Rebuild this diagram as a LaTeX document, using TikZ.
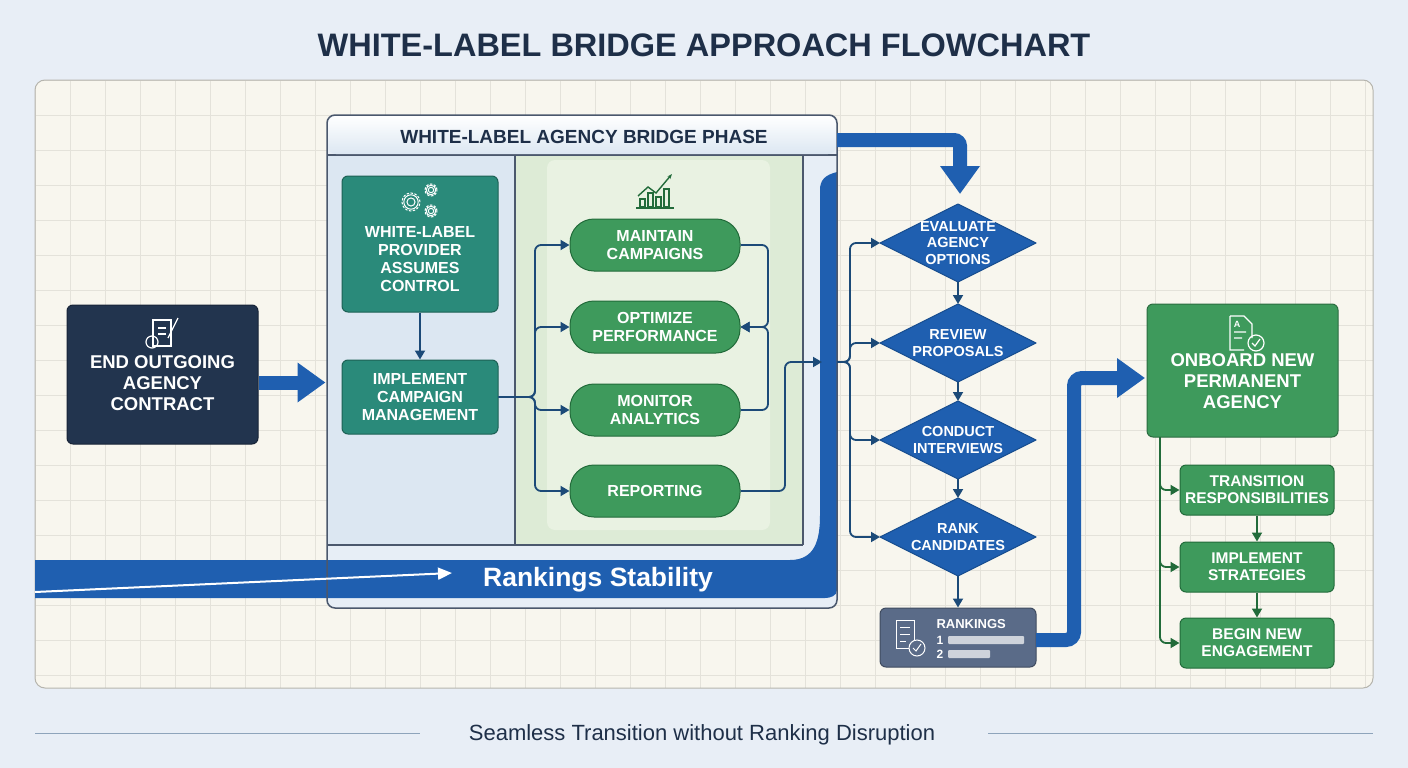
\documentclass[tikz,border=0pt]{standalone}
\usepackage{fontspec}
\setmainfont{Liberation Sans}
\usetikzlibrary{arrows.meta,calc,shapes.geometric}
\definecolor{bg}{HTML}{E8EEF6}
\definecolor{panel}{HTML}{F8F6EE}
\definecolor{gridc}{HTML}{E4E2DA}
\definecolor{navy}{HTML}{1E2F48}
\definecolor{dark}{HTML}{22344E}
\definecolor{teal}{HTML}{2A8A7A}
\definecolor{gr}{HTML}{3E9A5C}
\definecolor{grD}{HTML}{226B3A}
\definecolor{blu}{HTML}{1F5FB0}
\definecolor{bluD}{HTML}{164C8E}
\definecolor{lne}{HTML}{1C4A78}
\definecolor{slate}{HTML}{5A6B88}
\definecolor{lblue}{HTML}{DCE7F2}
\definecolor{lgreen}{HTML}{DDEBD6}
\definecolor{lgreen2}{HTML}{E9F2E2}
\tikzset{
 box/.style={rounded corners=6pt,draw=#1!70!black,line width=1pt,text=white,font=\bfseries\fontsize{16}{18}\selectfont,align=center},
 pill/.style={rounded corners=24pt,fill=gr,draw=grD,line width=1pt,minimum width=170pt,minimum height=52pt,text=white,font=\bfseries\fontsize{16}{18}\selectfont,align=center},
 sub/.style={rounded corners=6pt,fill=gr,draw=grD,line width=1pt,minimum width=154pt,minimum height=50pt,text=white,font=\bfseries\fontsize{15.5}{17}\selectfont,align=center},
 dtext/.style={text=white,font=\bfseries\fontsize{14.5}{16.5}\selectfont,align=center},
 dia/.style={fill=blu,draw=bluD,line width=1pt,line join=round},
 con/.style={draw=lne,line width=1.8pt,-{Triangle[length=9pt,width=10pt]},rounded corners=6pt},
 gcon/.style={draw=grD,line width=1.8pt,-{Triangle[length=9pt,width=10pt]},rounded corners=6pt},
 big/.style={draw=blu,line width=14pt,-{Triangle[length=28pt,width=38pt]}},
}
\newcommand{\mydia}[4]{%
 \coordinate (#1-t) at (#2,#3-39); \coordinate (#1-b) at (#2,#3+39);
 \coordinate (#1-l) at (#2-78,#3); \coordinate (#1-r) at (#2+78,#3);
 \path[dia] (#1-l)--(#1-t)--(#1-r)--(#1-b)--cycle;
 \node[dtext] (#1) at (#2,#3) {#4};}
\begin{document}
\begin{tikzpicture}[x=1pt,y=-1pt]
\useasboundingbox (0,0) rectangle (1408,768);
\fill[bg] (0,0) rectangle (1408,768);
\node[text=navy,font=\bfseries\fontsize{32.5}{36}\selectfont] (title) at (704,45) {WHITE-LABEL BRIDGE APPROACH FLOWCHART};
% panel
\fill[panel,rounded corners=10pt] (35,80) rectangle (1373,688);
\begin{scope}
\clip[rounded corners=10pt] (35,80) rectangle (1373,688);
\foreach \x in {35,70,...,1373} \draw[gridc,line width=0.8pt] (\x,80)--(\x,688);
\foreach \y in {80,115,...,688} \draw[gridc,line width=0.8pt] (35,\y)--(1373,\y);
\end{scope}
\draw[draw=gridc!80!black,line width=1pt,rounded corners=10pt] (35,80) rectangle (1373,688);
% bridge phase panel
\fill[lblue!70!white,rounded corners=8pt] (327,115) rectangle (837,608);
\fill[lblue] (327,155) rectangle (515,545);
\fill[lgreen] (515,155) rectangle (803,545);
\fill[lgreen2,rounded corners=8pt] (547,160) rectangle (770,530);
\draw[navy!80,line width=1.2pt] (327,155)--(837,155) (515,155)--(515,545) (803,155)--(803,545) (327,545)--(803,545);
\shade[top color=white,bottom color=lblue,rounded corners=8pt] (328,116) rectangle (836,154);
\node[text=navy,font=\bfseries\fontsize{19}{22}\selectfont] (phase) at (584,137) {WHITE-LABEL AGENCY BRIDGE PHASE};
% blue stability band
\fill[blu] (35,560) -- (790,560) .. controls (815,560) and (820,540) .. (820,515) -- (820,190) .. controls (820,180) and (825,175) .. (837,172) -- (837,590) .. controls (837,596) and (830,598) .. (825,598) -- (35,598) -- cycle;
\draw[navy!80,line width=1.5pt,rounded corners=8pt] (327,115) rectangle (837,608);
\node[text=white,font=\bfseries\fontsize{26.5}{30}\selectfont] (stab) at (598,580) {Rankings Stability};
\coordinate (wa) at (35,592); \coordinate (wb) at (452,573);
\draw[white,line width=2pt,-{Triangle[length=14pt,width=12pt]}] (wa)--(wb);
% top big arrow
\coordinate (ta) at (837,140); \coordinate (tb) at (960,194);
\draw[big,rounded corners=6pt] (ta) -- (960,140) -- (tb);
% end outgoing
\node[box=dark,fill=dark,minimum width=191pt,minimum height=139pt,font=\bfseries\fontsize{18.5}{21}\selectfont] (end) at (162.5,374.5) {\\[10pt]END OUTGOING\\AGENCY\\CONTRACT};
\draw[white,line width=1.2pt] (153,320) rectangle (171,346) (158,328)--(166,328) (158,334)--(166,334);
\draw[white,line width=1.2pt] (152,342) circle (6pt) (178,318)--(168,338);
\draw[big] (end.east) ++(0,8) coordinate (ea) -- ($(ea)+(67,0)$) coordinate (eb);
% teal boxes
\node[box=teal,fill=teal,minimum width=156pt,minimum height=136pt] (wl) at (420,244) {\\[24pt]WHITE-LABEL\\PROVIDER\\ASSUMES\\CONTROL};
\foreach \cx/\cy/\r in {411/202/9,431/190/6,431/211/6}
 \draw[white,line width=1pt,dashed,dash pattern=on 2.5pt off 1.5pt] (\cx,\cy) circle (\r pt);
\foreach \cx/\cy/\r in {411/202/9,431/190/6,431/211/6}
 \draw[white,line width=1pt] (\cx,\cy) circle (\r*0.45 pt) (\cx,\cy) circle (\r*0.8 pt);
\node[box=teal,fill=teal,minimum width=156pt,minimum height=74pt] (impl) at (420,397) {IMPLEMENT\\CAMPAIGN\\MANAGEMENT};
\draw[con] (wl.south) -- (impl.north);
% chart icon
\draw[grD,line width=1.4pt] (636,208)--(674,208);
\foreach \xx/\hh in {640/8,648/14,656/10,664/18} \draw[grD,line width=1.2pt] (\xx,207) rectangle (\xx+5,207-\hh);
\draw[grD,line width=1.4pt,-{Stealth[length=5pt]}] (638,196)--(648,187)--(656,193)--(672,174);
% pills
\node[pill] (p1) at (655,245) {MAINTAIN\\CAMPAIGNS};
\node[pill] (p2) at (655,327) {OPTIMIZE\\PERFORMANCE};
\node[pill] (p3) at (655,410) {MONITOR\\ANALYTICS};
\node[pill] (p4) at (655,491) {REPORTING};
\foreach \p in {p1,p2,p3,p4} \draw[con] (impl.east) -- (535,397) |- (\p.west);
\draw[con] (p1.east) -- (768,245) |- (p2.east);
\draw[con] (p3.east) -- (768,410) |- (p2.east);
\coordinate (rj) at (822,362);
\draw[con] (p4.east) -- (785,491) |- (rj);
% diamonds
\mydia{d1}{958}{243}{EVALUATE\\AGENCY\\OPTIONS}
\mydia{d2}{958}{343}{REVIEW\\PROPOSALS}
\mydia{d3}{958}{440}{CONDUCT\\INTERVIEWS}
\mydia{d4}{958}{537}{RANK\\CANDIDATES}
\coordinate (fj) at (837,362);
\foreach \d in {d1,d2,d3,d4} \draw[con] (fj) -- (850,362) |- (\d-l);
\draw[con] (d1-b)--(d2-t); \draw[con] (d2-b)--(d3-t); \draw[con] (d3-b)--(d4-t);
% rankings box
\node[box=slate,fill=slate,minimum width=156pt,minimum height=59pt] (rk) at (958,637.5) {};
\draw[con] (d4-b)--(rk.north);
\node[text=white,font=\bfseries\fontsize{13}{15}\selectfont,anchor=west] (rkt) at (933,624) {RANKINGS};
\node[text=white,font=\bfseries\fontsize{12}{13}\selectfont] (r1) at (940,640) {1};
\node[text=white,font=\bfseries\fontsize{12}{13}\selectfont] (r2) at (940,654) {2};
\fill[white!70!slate,rounded corners=1pt] (948,636) rectangle (1024,644) (948,650) rectangle (990,658);
\draw[white,line width=1pt] (896,620) rectangle (914,648) (900,627)--(910,627) (900,634)--(910,634) (900,641)--(906,641);
\fill[slate] (917,648) circle (8pt); \draw[white,line width=1pt] (917,648) circle (8pt) (913,648)--(916,651)--(921,644);
% big arrow to onboard
\coordinate (ra) at (1036,640); \coordinate (rb) at (1145,378);
\draw[big,rounded corners=8pt] (ra) -- (1074,640) -- (1074,378) -- (rb);
% onboard
\node[box=gr,fill=gr,minimum width=191pt,minimum height=133pt,font=\bfseries\fontsize{18.5}{21}\selectfont] (on) at (1242.5,370.5) {\\[14pt]ONBOARD NEW\\PERMANENT\\AGENCY};
\draw[white,line width=1.2pt] (1230,316)--(1244,316)--(1252,324)--(1252,338) (1230,316)--(1230,350)--(1244,350) (1234,332)--(1246,332) (1234,338)--(1242,338);
\node[text=white,font=\bfseries\fontsize{9}{9}\selectfont] (iconA) at (1237,324) {A};
\draw[white,line width=1.2pt] (1256,343) circle (8pt) (1252,343)--(1255,346)--(1260,339);
\node[sub] (s1) at (1257,490) {TRANSITION\\RESPONSIBILITIES};
\node[sub] (s2) at (1257,567) {IMPLEMENT\\STRATEGIES};
\node[sub] (s3) at (1257,643) {BEGIN NEW\\ENGAGEMENT};
\coordinate (og) at (1160,437);
\foreach \s in {s1,s2,s3} \draw[gcon] (og) |- (\s.west);
\draw[gcon] (s1.south)--(s2.north); \draw[gcon] (s2.south)--(s3.north);
% footer
\node[text=navy,font=\fontsize{22}{26}\selectfont] (foot) at (702,735) {Seamless Transition without Ranking Disruption};
\coordinate (fl1) at (35,733); \coordinate (fl2) at (420,733);
\coordinate (fr1) at (988,733); \coordinate (fr2) at (1373,733);
\draw[lne!50,line width=1pt] (fl1)--(fl2) (fr1)--(fr2);
\end{tikzpicture}
\end{document}
